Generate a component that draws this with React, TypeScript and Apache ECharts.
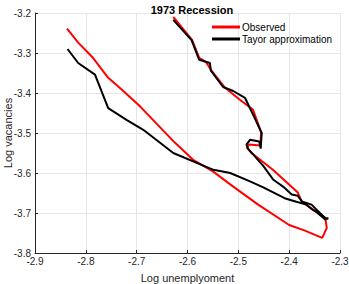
import React, { useEffect, useRef } from "react";
import * as echarts from "echarts";

const title = "1973 Recession";
const xName = "Log unemplyoment";
const yName = "Log vacancies";
const seriesNames = ["Observed", "Tayor approximation"];

const observedX = [-2.628, -2.591, -2.577, -2.564, -2.554, -2.526, -2.497, -2.471, -2.455, -2.457, -2.479, -2.483, -2.474, -2.432, -2.383, -2.375, -2.329, -2.326, -2.335, -2.369, -2.400, -2.461, -2.510, -2.550, -2.589, -2.625, -2.693, -2.729, -2.756, -2.786, -2.815, -2.837];
const observedY = [-3.210, -3.267, -3.312, -3.322, -3.342, -3.387, -3.417, -3.442, -3.499, -3.531, -3.529, -3.537, -3.550, -3.592, -3.649, -3.672, -3.712, -3.737, -3.762, -3.744, -3.730, -3.679, -3.634, -3.596, -3.567, -3.524, -3.434, -3.392, -3.362, -3.312, -3.274, -3.239];

const taylorX = [-2.628, -2.592, -2.577, -2.556, -2.554, -2.530, -2.510, -2.487, -2.471, -2.454, -2.456, -2.459, -2.477, -2.484, -2.481, -2.467, -2.451, -2.431, -2.412, -2.395, -2.383, -2.375, -2.356, -2.329, -2.323, -2.329, -2.346, -2.356, -2.366, -2.386, -2.409, -2.451, -2.477, -2.516, -2.549, -2.628, -2.687, -2.720, -2.756, -2.782, -2.815, -2.836];
const taylorY = [-3.217, -3.268, -3.317, -3.325, -3.344, -3.385, -3.395, -3.412, -3.454, -3.500, -3.539, -3.521, -3.517, -3.529, -3.539, -3.559, -3.582, -3.617, -3.634, -3.654, -3.657, -3.671, -3.679, -3.713, -3.713, -3.716, -3.698, -3.690, -3.679, -3.672, -3.663, -3.636, -3.621, -3.600, -3.592, -3.550, -3.492, -3.467, -3.438, -3.354, -3.325, -3.290];

const FONT = "Liberation Sans, Arial, Helvetica, sans-serif";

export default function App() {
  const ref = useRef<HTMLDivElement>(null);
  useEffect(() => {
    if (!ref.current) return;
    const chart = echarts.init(ref.current, undefined, { renderer: "svg" });
    const obs = observedX.map((x, i) => [x, observedY[i]]);
    const tay = taylorX.map((x, i) => [x, taylorY[i]]);
    const axisCommon = {
      axisLine: { show: true, lineStyle: { color: "#262626", width: 1 } },
      axisTick: { show: true, inside: true, length: 3, lineStyle: { color: "#262626" } },
      axisLabel: { color: "#262626", fontSize: 10, fontFamily: FONT },
      splitLine: { show: true, lineStyle: { color: "#e6e6e6", width: 1 } },
      nameTextStyle: { color: "#262626", fontSize: 11, fontFamily: FONT },
    };
    chart.setOption({
      animation: false,
      backgroundColor: "#ffffff",
      title: {
        text: title,
        left: 187,
        textAlign: "center",
        top: -1,
        textStyle: { fontSize: 11, fontWeight: "bold", color: "#000", fontFamily: FONT },
      },
      legend: {
        orient: "vertical",
        left: 212,
        top: 22,
        padding: 0,
        itemWidth: 28,
        itemHeight: 3,
        itemGap: 2,
        icon: "rect",
        textStyle: { fontSize: 10, color: "#000", fontFamily: FONT, padding: [0, 0, 0, -3] },
        data: seriesNames,
      },
      grid: { left: 35, right: 9, top: 13, bottom: 31, containLabel: false, outerBoundsMode: "none" },
      xAxis: {
        type: "value",
        min: -2.9,
        max: -2.3,
        interval: 0.1,
        name: xName,
        nameLocation: "middle",
        nameGap: 19,
        nameMoveOverlap: false,
        ...axisCommon,
        axisLabel: { ...axisCommon.axisLabel, margin: 3, formatter: (v: number) => v.toFixed(1) },
      },
      yAxis: {
        type: "value",
        min: -3.8,
        max: -3.2,
        interval: 0.1,
        name: yName,
        nameLocation: "middle",
        nameGap: 22,
        nameMoveOverlap: false,
        ...axisCommon,
        axisLabel: { ...axisCommon.axisLabel, margin: 4, formatter: (v: number) => v.toFixed(1) },
      },
      series: [
        {
          name: seriesNames[0],
          type: "line",
          data: obs,
          showSymbol: false,
          symbol: "none",
          color: "#ff0000",
          lineStyle: { color: "#ff0000", width: 2 },
        },
        {
          name: seriesNames[1],
          type: "line",
          data: tay,
          showSymbol: false,
          symbol: "none",
          color: "#000000",
          lineStyle: { color: "#000000", width: 2 },
        },
      ],
    });
    return () => chart.dispose();
  }, []);
  return <div ref={ref} style={{ width: 349, height: 284, position: "absolute", left: 0, top: 0 }} />;
}
